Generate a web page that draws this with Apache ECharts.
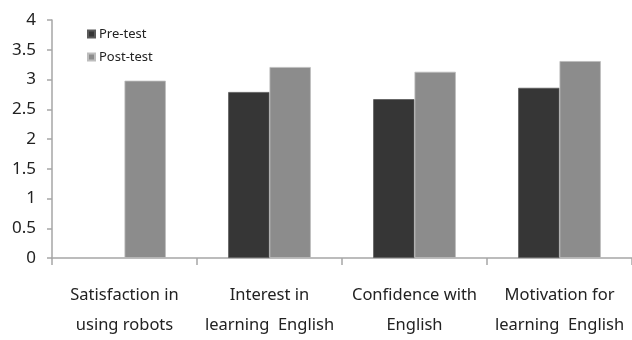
<!DOCTYPE html>
<html>
<head>
<meta charset="utf-8">
<script src="https://cdn.jsdelivr.net/npm/echarts@6/dist/echarts.min.js"></script>
<style>
  html, body { margin: 0; padding: 0; background: #fff; }
  #chart { width: 632px; height: 340px; }
</style>
</head>
<body>
<div id="chart"></div>
<script>
// Survey categories (two-line labels)
const categories = [
  'Satisfaction in\nusing robots',
  'Interest in\nlearning  English',
  'Confidence with\nEnglish',
  'Motivation for\nlearning  English'
];
// Mean scores per group
const preTest = [null, 2.79, 2.67, 2.86];
const postTest = [2.98, 3.21, 3.13, 3.31];
const seriesNames = ['Pre-test', 'Post-test'];
const yTicks = { min: 0, max: 4, interval: 0.5 };

const fontFamily = '"Noto Sans", "Open Sans", sans-serif';
const axisGray = '#a6a6a6';

const chart = echarts.init(document.getElementById('chart'));
chart.setOption({
  animation: false,
  grid: { left: 52, top: 20, width: 584, height: 243 },
  legend: {
    data: seriesNames,
    orient: 'vertical',
    left: 82,
    top: 22,
    itemWidth: 7,
    itemHeight: 7,
    itemGap: 9,
    icon: 'rect',
    textStyle: { fontFamily, fontSize: 13, lineHeight: 14, color: '#222', padding: [0, 0, 0, -1] }
  },
  xAxis: {
    type: 'category',
    data: categories,
    axisLine: { lineStyle: { color: axisGray, width: 1.5 } },
    axisTick: { show: true, length: 7, lineStyle: { color: axisGray, width: 1.5 } },
    axisLabel: {
      fontFamily, fontSize: 16.5, color: '#222', lineHeight: 30, margin: 22,
      interval: 0
    }
  },
  yAxis: {
    type: 'value',
    min: yTicks.min,
    max: yTicks.max,
    interval: yTicks.interval,
    axisLine: { show: true, lineStyle: { color: axisGray, width: 1.5 } },
    axisTick: { show: true, length: 5, lineStyle: { color: axisGray, width: 1.5 } },
    splitLine: { show: false },
    axisLabel: { fontFamily, fontSize: 17, color: '#222', margin: 16 }
  },
  series: [
    {
      name: seriesNames[0],
      type: 'bar',
      data: preTest,
      barGap: '0%',
      barCategoryGap: '43%',
      itemStyle: { color: '#363636', borderColor: '#5a5a5a', borderWidth: 0.8 }
    },
    {
      name: seriesNames[1],
      type: 'bar',
      data: postTest,
      itemStyle: { color: '#8c8c8c', borderColor: '#bdbdbd', borderWidth: 0.8 }
    }
  ]
});
</script>
</body>
</html>
